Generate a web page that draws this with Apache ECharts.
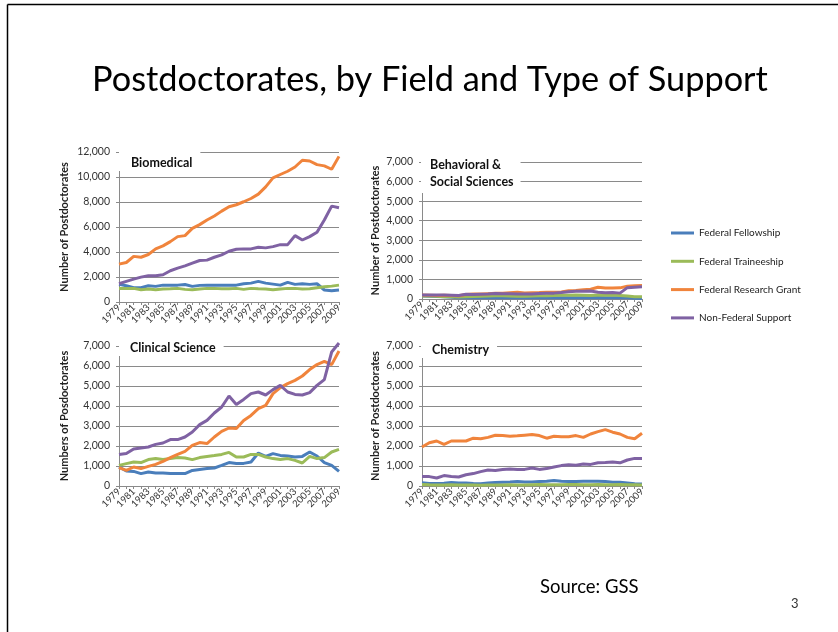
<!DOCTYPE html>
<html>
<head>
<meta charset="utf-8">
<title>Postdoctorates, by Field and Type of Support</title>
<script src="https://cdn.jsdelivr.net/npm/echarts@6/dist/echarts.min.js"></script>
<style>
html, body { margin: 0; padding: 0; background: #fff; }
#chart { width: 838px; height: 632px; }
</style>
</head>
<body>
<div id="chart"></div>
<script>
var years = ['1979','1980','1981','1982','1983','1984','1985','1986','1987','1988',
	'1989','1990','1991','1992','1993','1994','1995','1996','1997','1998',
	'1999','2000','2001','2002','2003','2004','2005','2006','2007','2008','2009'];

var seriesNames = ['Federal Fellowship', 'Federal Traineeship', 'Federal Research Grant', 'Non-Federal Support'];
var seriesColors = ['#4A7EBB', '#9BBB59', '#F0843C', '#7F62A3'];

// Biomedical
var bioFellowship = [1410,1300,1150,1140,1300,1250,1350,1350,1350,1400,1250,1330,1350,1350,1350,1350,1350,1460,1510,1650,1510,1430,1350,1570,1410,1460,1410,1460,960,900,960];
var bioTraineeship = [1090,1090,1090,980,1040,980,1040,1060,1090,1010,980,1040,1090,1090,1060,1060,1090,1010,1090,1060,1040,980,1040,1090,1090,1040,1060,1140,1220,1270,1350];
var bioResearch = [3030,3160,3650,3580,3800,4250,4490,4830,5230,5310,5890,6190,6560,6880,7270,7620,7780,8020,8280,8630,9210,9930,10200,10460,10800,11340,11280,10990,10890,10620,11650];
var bioNonFederal = [1460,1650,1830,1990,2100,2100,2180,2500,2710,2890,3110,3320,3350,3580,3770,4060,4220,4250,4250,4380,4330,4430,4590,4590,5310,4960,5230,5580,6560,7670,7540];

// Behavioral & Social Sciences
var behFellowship = [150,140,130,120,90,60,60,60,60,60,70,70,70,70,60,60,60,70,70,70,70,70,70,70,80,70,70,60,60,40,30];
var behTraineeship = [150,150,140,120,110,100,110,130,140,150,160,160,150,140,140,150,160,170,180,190,190,200,190,180,200,190,200,180,150,120,110];
var behResearch = [200,190,180,190,180,170,230,250,250,270,290,290,320,340,310,320,330,350,340,360,420,430,470,500,600,560,560,570,650,680,690];
var behNonFederal = [210,210,200,200,190,180,240,230,240,250,280,270,270,260,250,260,280,290,300,330,370,390,400,410,350,320,330,300,580,600,620];

// Clinical Science
var cliFellowship = [950,750,730,620,700,650,650,620,620,620,780,830,870,900,1030,1170,1120,1130,1200,1650,1480,1620,1530,1500,1450,1480,1700,1500,1170,1030,730];
var cliTraineeship = [1030,1120,1200,1170,1320,1370,1330,1370,1420,1400,1320,1420,1480,1520,1580,1680,1450,1450,1580,1580,1450,1370,1320,1370,1280,1150,1480,1370,1420,1700,1830];
var cliResearch = [920,780,950,870,980,1080,1230,1420,1580,1730,2030,2170,2120,2450,2730,2900,2870,3280,3530,3870,4030,4620,4920,5120,5280,5500,5820,6070,6230,6070,6750];
var cliNonFederal = [1570,1620,1850,1900,1950,2080,2150,2320,2320,2450,2700,3070,3280,3650,3950,4500,4080,4330,4620,4700,4550,4820,5030,4700,4580,4550,4670,5030,5320,6700,7150];

// Chemistry
var chemFellowship = [160,130,120,140,180,150,150,120,110,150,180,190,200,220,200,200,230,240,280,240,230,230,240,240,240,230,190,190,150,110,100];
var chemTraineeship = [80,60,50,50,60,50,50,50,40,50,50,50,60,50,50,60,70,60,60,60,70,70,60,60,70,60,60,70,60,60,50];
var chemResearch = [1950,2160,2250,2080,2250,2250,2250,2390,2360,2430,2540,2520,2490,2510,2540,2570,2520,2390,2490,2460,2460,2520,2430,2600,2720,2820,2690,2600,2430,2360,2640];
var chemNonFederal = [480,470,400,520,480,450,560,620,720,800,780,820,850,830,830,900,830,870,950,1020,1060,1040,1100,1080,1160,1170,1200,1160,1300,1380,1380];

var panels = [
	{ title: 'Biomedical', yName: 'Number of Postdoctorates', max: 12000, interval: 2000,
		data: [bioFellowship, bioTraineeship, bioResearch, bioNonFederal] },
	{ title: 'Behavioral &\nSocial Sciences', yName: 'Number of Postdoctorates', max: 7000, interval: 1000,
		data: [behFellowship, behTraineeship, behResearch, behNonFederal] },
	{ title: 'Clinical Science', yName: 'Numbers of Posdoctorates', max: 7000, interval: 1000,
		data: [cliFellowship, cliTraineeship, cliResearch, cliNonFederal] },
	{ title: 'Chemistry', yName: 'Number of Postdoctorates', max: 7000, interval: 1000,
		data: [chemFellowship, chemTraineeship, chemResearch, chemNonFederal] }
];

var font = 'Lato';
var axisGray = '#8a8a8a';

var grids = [
	{ left: 119, top: 152, width: 220, height: 150 },
	{ left: 422, top: 162, width: 220, height: 137 },
	{ left: 119, top: 346, width: 220, height: 140 },
	{ left: 422, top: 346, width: 220, height: 140 }
];
var nameGaps = [49, 41, 49, 41];

var xAxes = [], yAxes = [], series = [];
panels.forEach(function(p, g) {
	xAxes.push({
		type: 'category',
		gridIndex: g,
		data: years,
		boundaryGap: false,
		axisLine: { lineStyle: { color: axisGray } },
		axisTick: { show: true, interval: 0, length: 3, lineStyle: { color: axisGray } },
		axisLabel: { interval: 1, rotate: 45, fontSize: 9.5, color: '#333', margin: 4, fontFamily: font },
		splitLine: { show: false }
	});
	yAxes.push({
		type: 'value',
		gridIndex: g,
		min: 0,
		max: p.max,
		interval: p.interval,
		name: p.yName,
		nameLocation: 'middle',
		nameGap: nameGaps[g],
		nameTextStyle: { fontSize: 11, fontWeight: 'bold', color: '#222', fontFamily: font },
		axisLine: { show: true, lineStyle: { color: axisGray } },
		axisTick: { show: true, length: 3, lineStyle: { color: axisGray } },
		axisLabel: {
			fontSize: 10.5, color: '#333', margin: 9, fontFamily: font,
			formatter: function(v) { return v.toLocaleString('en-US'); }
		},
		splitLine: { lineStyle: { color: axisGray, width: 1 } }
	});
	p.data.forEach(function(d, k) {
		series.push({
			name: seriesNames[k],
			type: 'line',
			xAxisIndex: g,
			yAxisIndex: g,
			data: d,
			symbol: 'none',
			clip: false,
			lineStyle: { width: 3, color: seriesColors[k] },
			itemStyle: { color: seriesColors[k] }
		});
	});
});

var panelTitle = {
	fontSize: 12.5, fontWeight: 'bold', color: '#111', fontFamily: font
};

var myChart = echarts.init(document.getElementById('chart'));
option = {
	animation: false,
	backgroundColor: '#fff',
	title: [{
		text: 'Postdoctorates, by Field and Type of Support',
		left: 92,
		top: 63,
		padding: 0,
		textStyle: { fontSize: 34.3, fontWeight: 'normal', color: '#000', fontFamily: font }
	}, {
		text: panels[0].title, left: 119, top: 149, padding: [7, 8, 2, 12],
		backgroundColor: '#fff', textStyle: panelTitle
	}, {
		text: panels[1].title, left: 421, top: 154, padding: [2, 7, 2, 9],
		backgroundColor: '#fff', textStyle: Object.assign({ lineHeight: 17.5 }, panelTitle)
	}, {
		text: panels[2].title, left: 119, top: 338, padding: [3, 8, 2, 11],
		backgroundColor: '#fff', textStyle: panelTitle
	}, {
		text: panels[3].title, left: 421, top: 340, padding: [3, 8, 2, 11],
		backgroundColor: '#fff', textStyle: panelTitle
	}, {
		text: 'Source: GSS', left: 540, top: 578, padding: 0,
		textStyle: { fontSize: 18.5, fontWeight: 'normal', color: '#000', fontFamily: font }
	}, {
		text: '3', left: 791, top: 597, padding: 0,
		textStyle: { fontSize: 13, fontWeight: 'normal', color: '#333', fontFamily: font }
	}],
	legend: {
		orient: 'vertical',
		left: 666,
		top: 222,
		itemWidth: 23,
		itemHeight: 3,
		itemGap: 16.3,
		icon: 'rect',
		data: seriesNames,
		textStyle: { fontSize: 10, color: '#222', fontFamily: font, lineHeight: 12 }
	},
	graphic: [
		{ type: 'line', shape: { x1: 7.5, y1: 4.5, x2: 838, y2: 4.5 }, style: { stroke: '#000', lineWidth: 1.5 } },
		{ type: 'line', shape: { x1: 7.5, y1: 4.5, x2: 7.5, y2: 632 }, style: { stroke: '#000', lineWidth: 1.5 } }
	],
	grid: grids,
	xAxis: xAxes,
	yAxis: yAxes,
	series: series
};
myChart.setOption(option);
</script>
</body>
</html>
